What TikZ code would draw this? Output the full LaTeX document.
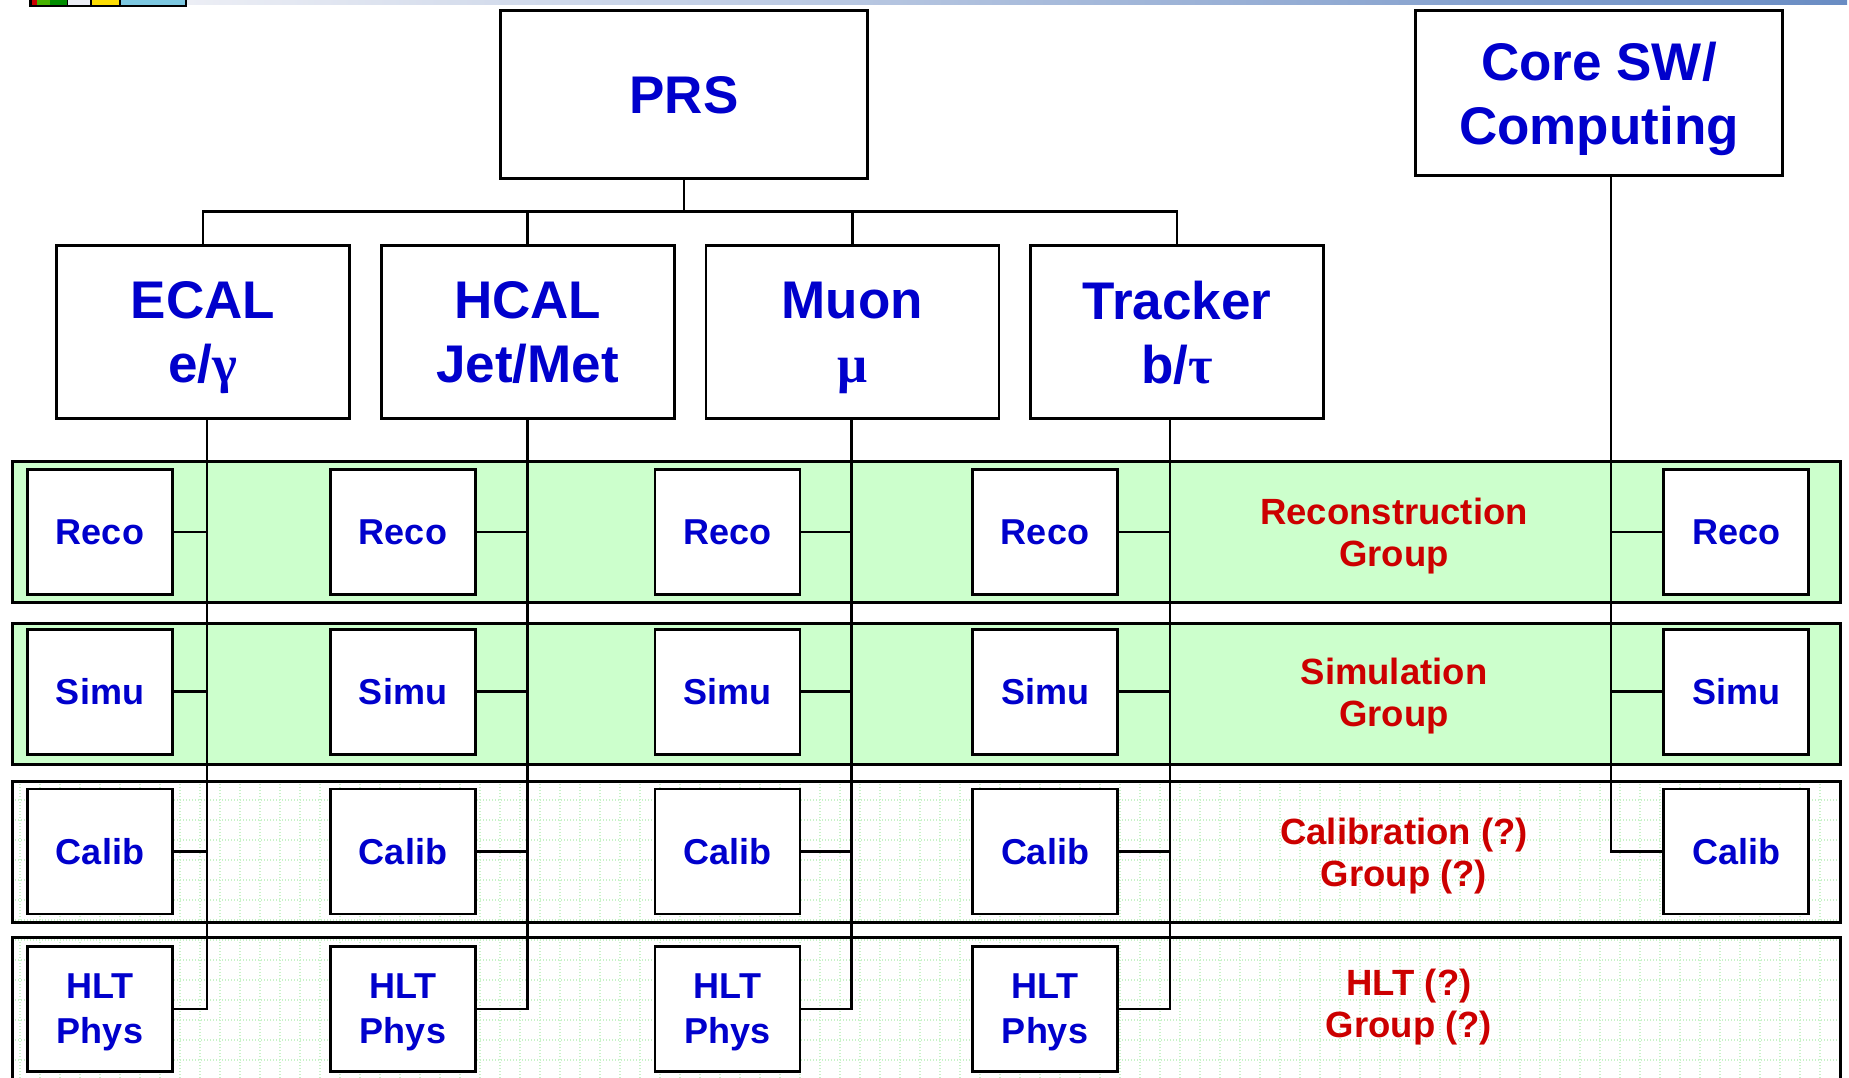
\documentclass[tikz,border=0pt]{standalone}
\usepackage{fontspec}
\setmainfont{Liberation Sans}
\newfontfamily\greekfont{Liberation Serif}
\usepackage{tikz}
\usetikzlibrary{positioning}
\definecolor{prsblue}{RGB}{0,0,204}
\definecolor{groupred}{RGB}{204,0,0}
\definecolor{bandgreen}{RGB}{204,255,204}
\definecolor{gridgreen}{RGB}{200,242,200}
\definecolor{headgrey}{RGB}{236,238,245}
\definecolor{headblue}{RGB}{105,140,195}
\definecolor{logoblue}{RGB}{125,200,225}

\begin{document}
\begin{tikzpicture}[x=1pt, y=-1pt,
  bigbox/.style={draw, line width=2.7pt, fill=white, align=center, inner sep=0pt,
                 minimum width=293pt, minimum height=173pt, text=prsblue, text depth=0pt,
                 font=\fontsize{53}{64}\selectfont\bfseries},
  subbox/.style={draw, line width=2.7pt, fill=white, align=center, inner sep=0pt,
                 minimum width=145pt, minimum height=125pt, text=prsblue, text depth=0pt,
                 font=\fontsize{36}{45}\selectfont\bfseries},
  band/.style={draw, line width=2.7pt, inner sep=0pt,
               minimum width=1828pt, minimum height=141pt},
  grp/.style={align=center, text=groupred, text depth=0pt,
              font=\fontsize{36.5}{42}\selectfont\bfseries},
  ln/.style={line width=2.7pt},
  gridline/.style={gridgreen, line width=1.2pt, dash pattern=on 1.2pt off 1.8pt}
]
\useasboundingbox (0,0) rectangle (1849,1078);
\clip (0,0) rectangle (1849,1078);

% header strip with logo
\shade[left color=headgrey, right color=headblue] (187,0) rectangle (1847,5);
\fill[black] (29,0) rectangle (187,7);
\fill[red!80!black] (32,0) rectangle (37,5);
\fill[green!60!yellow!70!black] (37,0) rectangle (50,5);
\fill[green!55!black] (50,0) rectangle (67,5);
\fill[headgrey] (68,0) rectangle (90,5);
\fill[yellow!80!orange] (92,0) rectangle (119,5);
\fill[logoblue] (121,0) rectangle (185,5);

% group bands
\node[band, fill=bandgreen] (recoband) at (926.5,532) {};
\node[band, fill=bandgreen] (simuband) at (926.5,694) {};
\node[band, fill=white] (calibband) at (926.5,852) {};
\node[band, fill=white, minimum height=157pt] (hltband) at (926.5,1016) {};
\draw[gridline, step=20pt] (15,784) grid (1838,920);
\draw[gridline, step=20pt] (15,940) grid (1838,1078);

\node[grp] (recolabel) at (1394,532) {Reconstruction\\Group};
\node[grp] (simulabel) at (1394,692) {Simulation\\Group};
\node[grp] (caliblabel) at (1404,852) {Calibration (?)\\Group (?)};
\node[grp] (hltlabel) at (1409,1003) {HLT (?)\\Group (?)};

% top level
\node[bigbox, minimum width=367pt, minimum height=168pt] (prs) at (684,94.5) {PRS};
\node[bigbox, minimum width=367pt, minimum height=165pt] (core) at (1599,93) {Core SW/\\Computing};

% detector groups
\node[bigbox] (ecal) at (203,332) {ECAL\\e/{\greekfont γ}};
\node[bigbox, right=29pt of ecal] (hcal) {HCAL\\Jet/Met};
\node[bigbox, right=29pt of hcal] (muon) {Muon\\{\greekfont μ}};
\node[bigbox, right=29pt of muon] (tracker) {Tracker\\b/{\greekfont τ}};

\coordinate[below=32pt of prs.south] (bus);
\draw[ln] (prs.south) -- (bus);
\draw[ln] (ecal.north) |- (bus);
\draw[ln] (bus) -| (tracker.north);
\draw[ln] (hcal.north) -- (hcal.north |- bus);
\draw[ln] (muon.north) -- (muon.north |- bus);

\coordinate (ecalfoot) at ([xshift=4pt]ecal.south);
\coordinate (hcalfoot) at (hcal.south);
\coordinate (muonfoot) at ([xshift=-1pt]muon.south);
\coordinate (trackerfoot) at ([xshift=-7pt]tracker.south);
\coordinate (corefoot) at ([xshift=12pt]core.south);

% sub-tasks per group
\node[subbox] (reco1) at (100,532) {Reco};
\node[subbox, below=32pt of reco1] (simu1) {Simu};
\node[subbox, below=32pt of simu1] (calib1) {Calib};
\node[subbox, below=30pt of calib1] (hlt1) {HLT\\Phys};

\node[subbox] (reco2) at (403,532) {Reco};
\node[subbox, below=32pt of reco2] (simu2) {Simu};
\node[subbox, below=32pt of simu2] (calib2) {Calib};
\node[subbox, below=30pt of calib2] (hlt2) {HLT\\Phys};

\node[subbox] (reco3) at (727.5,532) {Reco};
\node[subbox, below=32pt of reco3] (simu3) {Simu};
\node[subbox, below=32pt of simu3] (calib3) {Calib};
\node[subbox, below=30pt of calib3] (hlt3) {HLT\\Phys};

\node[subbox] (reco4) at (1045,532) {Reco};
\node[subbox, below=32pt of reco4] (simu4) {Simu};
\node[subbox, below=32pt of simu4] (calib4) {Calib};
\node[subbox, below=30pt of calib4] (hlt4) {HLT\\Phys};

\node[subbox] (reco5) at (1736,532) {Reco};
\node[subbox, below=32pt of reco5] (simu5) {Simu};
\node[subbox, below=32pt of simu5] (calib5) {Calib};

% links down each column
\draw[ln] (hlt1.east) -| (ecalfoot);
\draw[ln] (reco1.east) -- (reco1.east -| ecalfoot);
\draw[ln] (simu1.east) -- (simu1.east -| ecalfoot);
\draw[ln] (calib1.east) -- (calib1.east -| ecalfoot);

\draw[ln] (hlt2.east) -| (hcalfoot);
\draw[ln] (reco2.east) -- (reco2.east -| hcalfoot);
\draw[ln] (simu2.east) -- (simu2.east -| hcalfoot);
\draw[ln] (calib2.east) -- (calib2.east -| hcalfoot);

\draw[ln] (hlt3.east) -| (muonfoot);
\draw[ln] (reco3.east) -- (reco3.east -| muonfoot);
\draw[ln] (simu3.east) -- (simu3.east -| muonfoot);
\draw[ln] (calib3.east) -- (calib3.east -| muonfoot);

\draw[ln] (hlt4.east) -| (trackerfoot);
\draw[ln] (reco4.east) -- (reco4.east -| trackerfoot);
\draw[ln] (simu4.east) -- (simu4.east -| trackerfoot);
\draw[ln] (calib4.east) -- (calib4.east -| trackerfoot);

\draw[ln] (calib5.west) -| (corefoot);
\draw[ln] (reco5.west) -- (reco5.west -| corefoot);
\draw[ln] (simu5.west) -- (simu5.west -| corefoot);
\end{tikzpicture}
\end{document}
